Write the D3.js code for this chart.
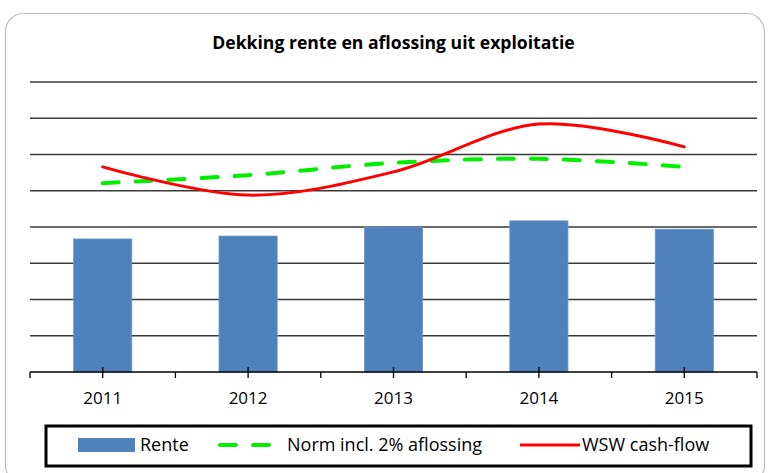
<!DOCTYPE html>
<html>
<head>
<meta charset="utf-8">
<script src="https://cdn.jsdelivr.net/npm/d3@7"></script>
<style>
body { margin: 0; background: #fff; }
text { font-family: "Open Sans", sans-serif; }
</style>
</head>
<body>
<div id="chart"></div>
<script>
const W = 768, H = 473;
const margin = { top: 82, right: 11, bottom: 101, left: 30 };
const width = W - margin.left - margin.right,
height = H - margin.top - margin.bottom;

// data (arbitrary units, no y labels shown)
const years = ["2011", "2012", "2013", "2014", "2015"];
const rente = [3.67, 3.75, 4.0, 4.17, 3.94];
const norm = [5.21, 5.43, 5.77, 5.88, 5.66];
const wsw = [5.66, 4.88, 5.52, 6.84, 6.21];
const yTicks = [0, 1, 2, 3, 4, 5, 6, 7, 8];

const svg = d3.select("#chart").append("svg")
.attr("width", W)
.attr("height", H);

// outer rounded frame
svg.append("rect")
.attr("x", 5.5).attr("y", 13.5)
.attr("width", 759).attr("height", 470)
.attr("rx", 18)
.attr("fill", "#fff")
.attr("stroke", "#bfbfbf")
.attr("stroke-width", 1.2);

svg.append("text")
.attr("x", margin.left + width / 2)
.attr("y", 49)
.attr("text-anchor", "middle")
.attr("font-size", 17.6)
.attr("font-weight", "bold")
.attr("fill", "#000")
.text("Dekking rente en aflossing uit exploitatie");

const g = svg.append("g")
.attr("transform", `translate(${margin.left},${margin.top})`);

const x = d3.scaleBand().domain(years).range([0, width]).paddingInner(0).paddingOuter(0);
const y = d3.scaleLinear().domain([0, 8]).range([height, 0]);

// gridlines
g.append("g")
.selectAll("line")
.data(yTicks.slice(1))
.join("line")
.attr("x1", 0).attr("x2", width)
.attr("y1", d => y(d)).attr("y2", d => y(d))
.attr("stroke", "#3a3a3a")
.attr("stroke-width", 1.3);

// bars
const barW = x.bandwidth() * 0.4;
g.append("g")
.selectAll("rect")
.data(rente)
.join("rect")
.attr("x", (d, i) => x(years[i]) + (x.bandwidth() - barW) / 2)
.attr("y", d => y(d))
.attr("width", barW)
.attr("height", d => height - y(d))
.attr("fill", "#4f81bd")
.attr("stroke", "#6f97c8")
.attr("stroke-width", 0.8);

const cx = i => x(years[i]) + x.bandwidth() / 2;
const line = d3.line()
.x((d, i) => cx(i))
.y(d => y(d))
.curve(d3.curveCatmullRom.alpha(0.5));

g.append("path")
.datum(norm)
.attr("fill", "none")
.attr("stroke", "#00ee00")
.attr("stroke-width", 4)
.attr("stroke-dasharray", "16,17")
.attr("stroke-linecap", "round")
.attr("d", line);

g.append("path")
.datum(wsw)
.attr("fill", "none")
.attr("stroke", "#ff0000")
.attr("stroke-width", 3)
.attr("stroke-linecap", "round")
.attr("d", line);

// x axis
g.append("line")
.attr("x1", 0).attr("x2", width)
.attr("y1", height).attr("y2", height)
.attr("stroke", "#000").attr("stroke-width", 1.3);

const bounds = d3.range(years.length + 1).map(i => i * x.step());
g.append("g").selectAll("line")
.data(bounds)
.join("line")
.attr("x1", d => d).attr("x2", d => d)
.attr("y1", height).attr("y2", height + 6)
.attr("stroke", "#000").attr("stroke-width", 1.3);

g.append("g").selectAll("line")
.data(years)
.join("line")
.attr("x1", d => x(d) + x.bandwidth() / 2).attr("x2", d => x(d) + x.bandwidth() / 2)
.attr("y1", height - 5).attr("y2", height + 6)
.attr("stroke", "#000").attr("stroke-width", 1.3);

g.append("g").selectAll("text")
.data(years)
.join("text")
.attr("x", d => x(d) + x.bandwidth() / 2)
.attr("y", height + 32)
.attr("text-anchor", "middle")
.attr("font-size", 17)
.attr("fill", "#000")
.text(d => d);

// legend
const leg = svg.append("g");
leg.append("rect")
.attr("x", 46).attr("y", 426)
.attr("width", 705).attr("height", 40)
.attr("fill", "#fff")
.attr("stroke", "#000")
.attr("stroke-width", 3);

const ly = 445;
leg.append("rect")
.attr("x", 78).attr("y", ly - 7)
.attr("width", 57).attr("height", 14)
.attr("fill", "#4f81bd");
leg.append("text").attr("x", 140).attr("y", ly + 6)
.attr("font-size", 18).text("Rente");

leg.append("line")
.attr("x1", 220).attr("x2", 282).attr("y1", ly).attr("y2", ly)
.attr("stroke", "#00ee00").attr("stroke-width", 4)
.attr("stroke-dasharray", "16,17").attr("stroke-linecap", "round");
leg.append("text").attr("x", 287).attr("y", ly + 6)
.attr("font-size", 18).text("Norm incl. 2% aflossing");

leg.append("line")
.attr("x1", 520).attr("x2", 580).attr("y1", ly).attr("y2", ly)
.attr("stroke", "#ff0000").attr("stroke-width", 3);
leg.append("text").attr("x", 582).attr("y", ly + 6)
.attr("font-size", 18).text("WSW cash-flow");
</script>
</body>
</html>
